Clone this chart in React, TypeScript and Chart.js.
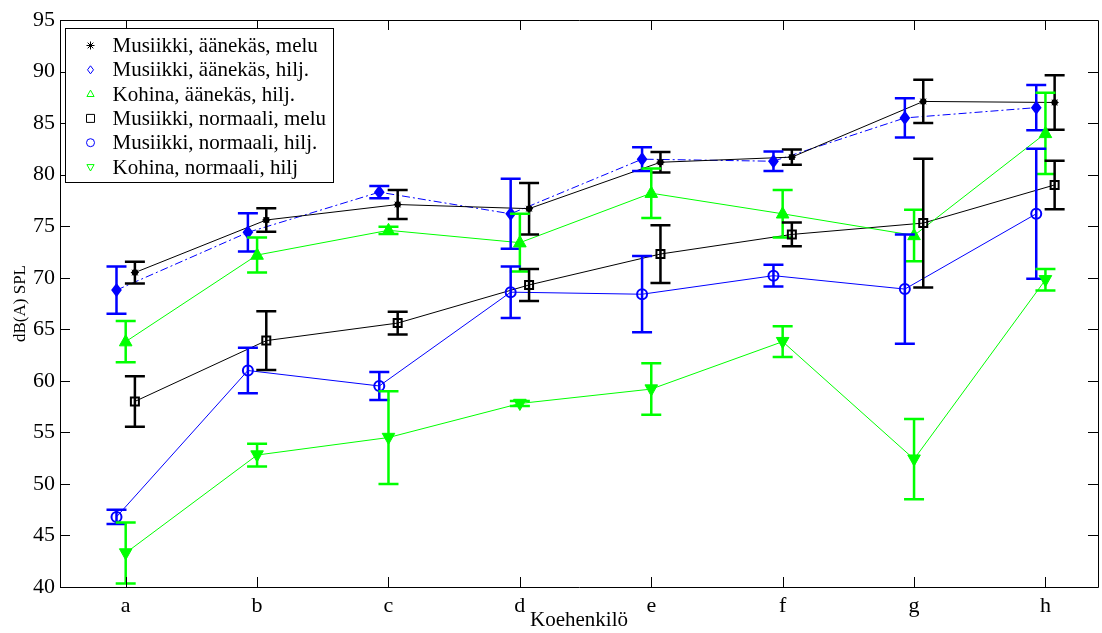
import React, { useEffect, useRef } from "react";
import { Chart, registerables } from "chart.js";
Chart.register(...registerables);

const categories = ["a", "b", "c", "d", "e", "f", "g", "h"];
const seriesLabels = [
  "Musiikki, äänekäs, melu",
  "Musiikki, äänekäs, hilj.",
  "Kohina, äänekäs, hilj.",
  "Musiikki, normaali, melu",
  "Musiikki, normaali, hilj.",
  "Kohina, normaali, hilj",
];
const musLoudNoise = [70.5, 75.6, 77.1, 76.7, 81.2, 81.7, 87.1, 87.0];
const musLoudNoiseErr = [1.05, 1.15, 1.4, 2.5, 1.0, 0.75, 2.1, 2.65];
const musLoudQuiet = [68.8, 74.4, 78.3, 76.2, 81.5, 81.3, 85.5, 86.5];
const musLoudQuietErr = [2.3, 1.85, 0.6, 3.4, 1.15, 0.95, 1.9, 2.2];
const noiseLoudQuiet = [63.8, 72.2, 74.6, 73.4, 78.2, 76.2, 74.1, 84.0];
const noiseLoudQuietErr = [2.0, 1.7, 0.35, 2.8, 2.4, 2.3, 2.5, 3.95];
const musNormNoise = [58.0, 63.9, 65.6, 69.3, 72.3, 74.2, 75.3, 79.0];
const musNormNoiseErr = [2.45, 2.85, 1.1, 1.55, 2.8, 1.15, 6.25, 2.35];
const musNormQuiet = [46.8, 61.0, 59.5, 68.6, 68.4, 70.2, 68.9, 76.2];
const musNormQuietErr = [0.7, 2.2, 1.35, 2.5, 3.7, 1.05, 5.3, 6.3];
const noiseNormQuiet = [43.3, 52.8, 54.5, 57.8, 59.2, 63.8, 52.4, 69.8];
const noiseNormQuietErr = [2.95, 1.1, 4.5, 0.25, 2.5, 1.5, 3.9, 1.05];
const xOffsets = [0.07, -0.07, 0, 0.07, -0.07, 0];
const yTickValues = [40, 45, 50, 55, 60, 65, 70, 75, 80, 85, 90, 95];

const BLUE = "#0000ff";
const GREEN = "#00ff00";
const BLACK = "#000000";
const FONT = "'Liberation Serif', 'Times New Roman', serif";

const styles = [
  { color: BLACK, marker: "star", dash: [] as number[] },
  { color: BLUE, marker: "diamond", dash: [8, 3, 2, 3] },
  { color: GREEN, marker: "tri", dash: [] },
  { color: BLACK, marker: "square", dash: [] },
  { color: BLUE, marker: "circle", dash: [] },
  { color: GREEN, marker: "tridown", dash: [] },
];

function drawMarker(ctx: CanvasRenderingContext2D, kind: string, x: number, y: number, r: number, color: string, fill: boolean) {
  ctx.save();
  ctx.strokeStyle = color;
  ctx.fillStyle = color;
  ctx.lineWidth = 1;
  ctx.setLineDash([]);
  ctx.beginPath();
  if (kind === "star") {
    for (let k = 0; k < 4; k++) {
      const a = (k * Math.PI) / 4;
      ctx.moveTo(x - r * Math.cos(a), y - r * Math.sin(a));
      ctx.lineTo(x + r * Math.cos(a), y + r * Math.sin(a));
    }
    ctx.stroke();
    if (fill) {
      ctx.beginPath();
      ctx.arc(x, y, r * 0.8, 0, Math.PI * 2);
      ctx.fill();
    }
  } else if (kind === "diamond") {
    ctx.moveTo(x, y - r);
    ctx.lineTo(x + r * 0.75, y);
    ctx.lineTo(x, y + r);
    ctx.lineTo(x - r * 0.75, y);
    ctx.closePath();
    if (fill) { ctx.lineWidth = 2; ctx.fill(); }
    ctx.stroke();
  } else if (kind === "tri" || kind === "tridown") {
    const s = kind === "tri" ? 1 : -1;
    ctx.moveTo(x, y - s * r);
    ctx.lineTo(x + r * 0.9, y + s * r * 0.6);
    ctx.lineTo(x - r * 0.9, y + s * r * 0.6);
    ctx.closePath();
    if (fill) ctx.fill();
    ctx.stroke();
  } else if (kind === "square") {
    if (fill) { ctx.lineWidth = 2; }
    ctx.rect(x - r, y - r, 2 * r, 2 * r);
    ctx.stroke();
  } else if (kind === "circle") {
    if (fill) { ctx.lineWidth = 2; }
    ctx.arc(x, y, r, 0, Math.PI * 2);
    ctx.stroke();
  }
  ctx.restore();
}

const values = [musLoudNoise, musLoudQuiet, noiseLoudQuiet, musNormNoise, musNormQuiet, noiseNormQuiet];
const errors = [musLoudNoiseErr, musLoudQuietErr, noiseLoudQuietErr, musNormNoiseErr, musNormQuietErr, noiseNormQuietErr];
const plotMarkerSize = [4, 5.5, 7, 4, 5, 7];

const errorBarPlugin = {
  id: "errorBars",
  afterDatasetsDraw(chart: any) {
    const ctx: CanvasRenderingContext2D = chart.ctx;
    const xs = chart.scales.x;
    const ys = chart.scales.y;
    ctx.save();
    chart.data.datasets.forEach((ds: any, i: number) => {
      const st = styles[i];
      ds.data.forEach((p: any, j: number) => {
        const e = errors[i][j];
        const px = xs.getPixelForValue(p.x);
        const pt = ys.getPixelForValue(p.y + e);
        const pb = ys.getPixelForValue(p.y - e);
        ctx.strokeStyle = st.color;
        ctx.lineWidth = 2.5;
        ctx.setLineDash([]);
        ctx.beginPath();
        ctx.moveTo(px, pt);
        ctx.lineTo(px, pb);
        ctx.moveTo(px - 10, pt);
        ctx.lineTo(px + 10, pt);
        ctx.moveTo(px - 10, pb);
        ctx.lineTo(px + 10, pb);
        ctx.stroke();
        drawMarker(ctx, st.marker, px, ys.getPixelForValue(p.y), plotMarkerSize[i], st.color, true);
      });
    });
    ctx.restore();
  },
};

const framePlugin = {
  id: "frame",
  afterDraw(chart: any) {
    const ctx: CanvasRenderingContext2D = chart.ctx;
    const { left, right, top, bottom } = chart.chartArea;
    const xs = chart.scales.x;
    const ys = chart.scales.y;
    ctx.save();
    ctx.strokeStyle = "#000";
    ctx.lineWidth = 1;
    ctx.setLineDash([]);
    ctx.beginPath();
    ctx.rect(Math.round(left) + 0.5, Math.round(top) + 0.5, Math.round(right - left), Math.round(bottom - top));
    const L = 10;
    yTickValues.forEach((v) => {
      const y = Math.round(ys.getPixelForValue(v)) + 0.5;
      ctx.moveTo(left, y);
      ctx.lineTo(left + L, y);
      ctx.moveTo(right, y);
      ctx.lineTo(right - L, y);
    });
    categories.forEach((_, i) => {
      const x = Math.round(xs.getPixelForValue(i + 1)) + 0.5;
      ctx.moveTo(x, bottom);
      ctx.lineTo(x, bottom - L);
      ctx.moveTo(x, top);
      ctx.lineTo(x, top + L);
    });
    ctx.stroke();

    // legend
    const bx = Math.round(left) + 5.5;
    const by = Math.round(top) + 8.5;
    const bw = 268;
    const bh = 154;
    ctx.fillStyle = "#fff";
    ctx.fillRect(bx, by, bw, bh);
    ctx.strokeRect(bx, by, bw, bh);
    ctx.font = `21px ${FONT}`;
    ctx.textBaseline = "middle";
    ctx.textAlign = "left";
    ctx.fillStyle = "#000";
    seriesLabels.forEach((lab, i) => {
      const cy = by + 17 + i * 24.3;
      drawMarker(ctx, styles[i].marker, bx + 25, cy, 4, styles[i].color, false);
      ctx.fillStyle = "#000";
      ctx.fillText(lab, bx + 47, cy + 1);
    });
    ctx.restore();
  },
};

export default function App() {
  const ref = useRef<HTMLCanvasElement>(null);
  useEffect(() => {
    document.body.style.margin = "0";
    const datasets = values.map((vals, i) => ({
      label: seriesLabels[i],
      data: vals.map((v, j) => ({ x: j + 1 + xOffsets[i], y: v })),
      borderColor: styles[i].color,
      borderWidth: 1,
      borderDash: styles[i].dash,
      pointRadius: 0,
      showLine: true,
      fill: false,
      tension: 0,
    }));
    const chart = new Chart(ref.current!, {
      type: "scatter",
      data: { datasets },
      plugins: [errorBarPlugin, framePlugin],
      options: {
        animation: false,
        responsive: false,
        layout: { padding: { top: 20, right: 4, left: 0, bottom: 0 } },
        plugins: { legend: { display: false }, tooltip: { enabled: false } },
        scales: {
          x: {
            type: "linear",
            min: 0.5,
            max: 8.4,
            grid: { display: false, drawTicks: false },
            border: { display: false },
            afterBuildTicks: (s: any) => {
              s.ticks = categories.map((_, i) => ({ value: i + 1 }));
            },
            afterFit: (s: any) => {
              s.height = 46;
            },
            ticks: {
              color: "#000",
              font: { family: FONT, size: 22 },
              padding: 6,
              maxRotation: 0,
              autoSkip: false,
              callback: (v: any) => categories[Math.round(Number(v)) - 1] ?? "",
            },
            title: {
              display: true,
              text: "Koehenkilö",
              color: "#000",
              font: { family: FONT, size: 21 },
              padding: 0,
            },
          },
          y: {
            type: "linear",
            min: 40,
            max: 95,
            grid: { display: false, drawTicks: false },
            border: { display: false },
            afterBuildTicks: (s: any) => {
              s.ticks = yTickValues.map((v) => ({ value: v }));
            },
            afterFit: (s: any) => {
              s.width = 60;
            },
            ticks: {
              color: "#000",
              font: { family: FONT, size: 22 },
              padding: 5,
            },
            title: {
              display: true,
              text: "dB(A) SPL",
              color: "#000",
              font: { family: FONT, size: 17 },
              padding: { top: 10, bottom: 0 },
            },
          },
        },
      },
    } as any);
    return () => chart.destroy();
  }, []);
  return (
    <div style={{ position: "fixed", left: 0, top: 0, width: 1102, height: 633 }}>
      <canvas ref={ref} width={1102} height={633} />
    </div>
  );
}
